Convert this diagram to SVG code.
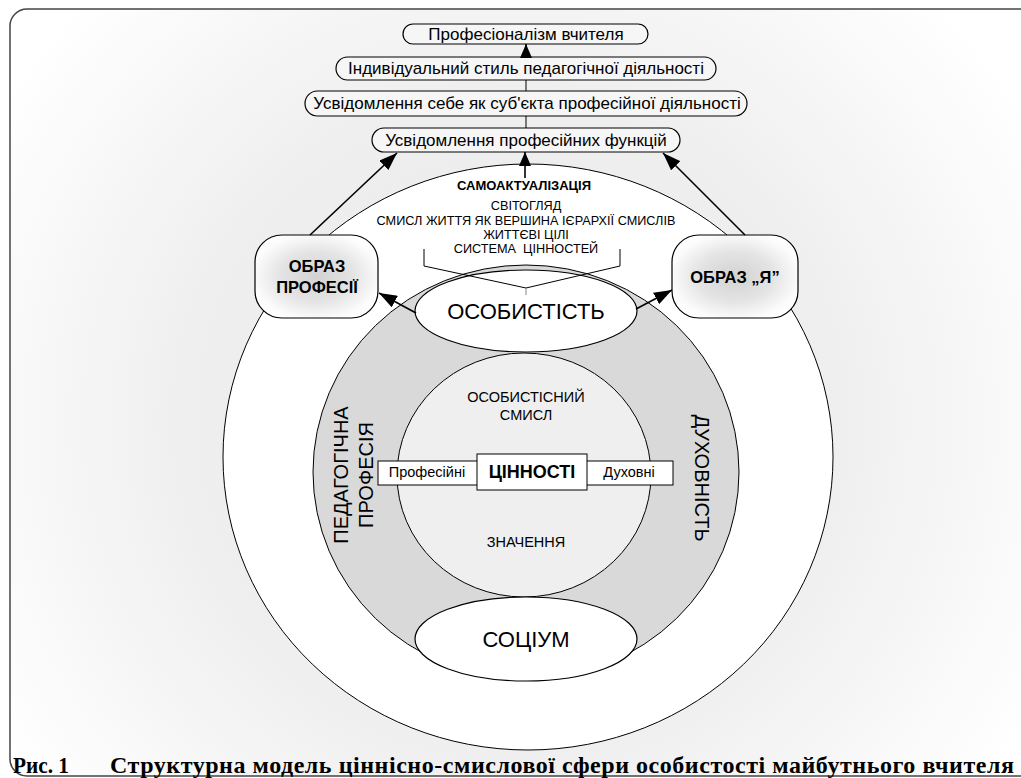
<svg xmlns="http://www.w3.org/2000/svg" width="1021" height="778" viewBox="0 0 1021 778">
<defs>
  <radialGradient id="bg" gradientUnits="userSpaceOnUse" cx="510" cy="420" r="600">
    <stop offset="0" stop-color="#e9e9e9"/>
    <stop offset="0.55" stop-color="#efefef"/>
    <stop offset="1" stop-color="#ffffff"/>
  </radialGradient>
  <radialGradient id="boxg" cx="0.5" cy="0.5" r="0.6">
    <stop offset="0" stop-color="#d2d2d2"/>
    <stop offset="0.5" stop-color="#e4e4e4"/>
    <stop offset="0.85" stop-color="#fbfbfb"/>
    <stop offset="1" stop-color="#ffffff"/>
  </radialGradient>
  <marker id="ah" markerUnits="userSpaceOnUse" viewBox="0 0 14 12" refX="14" refY="6" markerWidth="14" markerHeight="12" orient="auto">
    <path d="M0,0 L14,6 L0,12 z" fill="#000"/>
  </marker>
  <marker id="ahb" markerUnits="userSpaceOnUse" viewBox="0 0 18 13" refX="18" refY="6.5" markerWidth="18" markerHeight="13" orient="auto">
    <path d="M0,0 L18,6.5 L0,13 z" fill="#000"/>
  </marker>
  <style>
    .t{font-family:"Liberation Sans",Arial,sans-serif;fill:#000;text-anchor:middle}
    .pill{fill:#f6f6f6;stroke:#000;stroke-width:1.2}
    .ln{stroke:#000;stroke-width:1;fill:none}
    .arr{stroke:#000;stroke-width:1.6;fill:none}
    .ell{fill:#fff;stroke:#000;stroke-width:1.2}
    .box{fill:url(#boxg);stroke:#000;stroke-width:1.2}
    .rbox{fill:#fff;stroke:#000;stroke-width:1}
    .cap{font-family:"Liberation Serif","Times New Roman",serif;font-weight:bold;font-size:24px;fill:#000}
  </style>
</defs>

<rect id="frame" x="10" y="9" width="1030" height="767" rx="17" fill="url(#bg)" stroke="#444" stroke-width="1.5"/>

<g id="outer-circle">
  <ellipse cx="528" cy="457" rx="305" ry="293" fill="#fff" stroke="#000" stroke-width="1"/>
</g>
<g id="ring">
  <ellipse cx="526" cy="472" rx="213" ry="207" fill="#d9d9d9" stroke="#000" stroke-width="1"/>
  <text class="t" font-size="20" transform="translate(348,475) rotate(-90)">ПЕДАГОГІЧНА</text>
  <text class="t" font-size="20" transform="translate(373,475) rotate(-90)">ПРОФЕСІЯ</text>
  <text class="t" font-size="20" transform="translate(695,478) rotate(90)">ДУХОВНІСТЬ</text>
</g>
<g id="inner-circle">
  <ellipse cx="524" cy="475" rx="127" ry="122" fill="#efefef" stroke="#000" stroke-width="1"/>
  <text class="t" font-size="14.5" x="526" y="402">ОСОБИСТІСНИЙ</text>
  <text class="t" font-size="14.5" x="526" y="420">СМИСЛ</text>
  <text class="t" font-size="14.5" x="526" y="547">ЗНАЧЕННЯ</text>
</g>
<g id="values">
  <rect class="rbox" x="378" y="461" width="100" height="24"/>
  <text class="t" font-size="14.5" x="427" y="477">Професійні</text>
  <rect class="rbox" x="586" y="461" width="87" height="24"/>
  <text class="t" font-size="14.5" x="629" y="477">Духовні</text>
  <rect class="rbox" x="477" y="454" width="110" height="36"/>
  <text class="t" font-size="18" font-weight="bold" x="532" y="478">ЦІННОСТІ</text>
</g>

<g id="upper-text">
  <text class="t" font-size="13" font-weight="bold" x="524" y="190">САМОАКТУАЛІЗАЦІЯ</text>
  <text class="t" font-size="12.7" x="526" y="210">СВІТОГЛЯД</text>
  <text class="t" font-size="12.7" x="526" y="225">СМИСЛ ЖИТТЯ ЯК ВЕРШИНА ІЄРАРХІЇ СМИСЛІВ</text>
  <text class="t" font-size="12.7" x="526" y="239">ЖИТТЄВІ ЦІЛІ</text>
  <text class="t" font-size="12.7" x="526" y="253" xml:space="preserve">СИСТЕМА  ЦІННОСТЕЙ</text>
</g>

<g id="osobystist">
  <ellipse class="ell" cx="526" cy="311" rx="111" ry="41"/>
  <text class="t" font-size="22" x="526" y="319">ОСОБИСТІСТЬ</text>
</g>
<g id="brace">
  <path class="ln" d="M424,249 V266 L526,288 L620,266 V249"/>
  <line x1="526" y1="288" x2="526" y2="295" stroke="#888" stroke-width="1"/>
</g>
<g id="sotsium">
  <ellipse class="ell" cx="526" cy="639" rx="111" ry="42"/>
  <text class="t" font-size="22" x="526" y="647">СОЦІУМ</text>
</g>

<g id="obraz-profesii">
  <rect class="box" x="255" y="235" width="123" height="83" rx="27"/>
  <text class="t" font-size="16.5" font-weight="bold" x="317" y="272">ОБРАЗ</text>
  <text class="t" font-size="16.5" font-weight="bold" x="317" y="293">ПРОФЕСІЇ</text>
</g>
<g id="obraz-ya">
  <rect class="box" x="672" y="235" width="126" height="83" rx="27"/>
  <text class="t" font-size="16.5" font-weight="bold" x="735" y="283">ОБРАЗ „Я”</text>
</g>

<g id="p1">
  <rect class="pill" x="403" y="24" width="245" height="20" rx="10"/>
  <text class="t" font-size="17" x="526" y="40">Професіоналізм вчителя</text>
</g>
<g id="p2">
  <rect class="pill" x="336" y="57" width="380" height="23" rx="11.5"/>
  <text class="t" font-size="17" x="526" y="74">Індивідуальний стиль педагогічної діяльності</text>
</g>
<g id="p3">
  <rect class="pill" x="305" y="91" width="442" height="25" rx="12.5"/>
  <text class="t" font-size="17" x="527" y="109">Усвідомлення себе як суб'єкта професійної діяльності</text>
</g>
<g id="p4">
  <rect class="pill" x="372" y="128" width="308" height="24" rx="12"/>
  <text class="t" font-size="17" x="526" y="146">Усвідомлення професійних функцій</text>
</g>

<g id="connectors">
  <line class="arr" x1="526" y1="57" x2="526" y2="44" marker-end="url(#ah)"/>
  <line class="ln" x1="526" y1="80" x2="526" y2="91" stroke-width="1.2"/>
  <line class="ln" x1="526" y1="116" x2="526" y2="128" stroke-width="1.2"/>
  <line class="arr" x1="525" y1="178" x2="525" y2="152" marker-end="url(#ah)"/>
  <line class="arr" x1="310" y1="235" x2="397" y2="153" marker-end="url(#ahb)"/>
  <line class="arr" x1="745" y1="235" x2="663" y2="153" marker-end="url(#ahb)"/>
  <line class="arr" x1="416" y1="313" x2="379" y2="293" marker-end="url(#ahb)"/>
  <line class="arr" x1="636" y1="309" x2="672" y2="290" marker-end="url(#ahb)"/>
</g>

<g id="caption">
  <text class="cap" x="13" y="773" textLength="56" lengthAdjust="spacingAndGlyphs">Рис. 1</text>
  <text class="cap" x="110" y="773" textLength="904" lengthAdjust="spacing">Структурна модель ціннісно-смислової сфери особистості майбутнього вчителя</text>
</g>
</svg>
